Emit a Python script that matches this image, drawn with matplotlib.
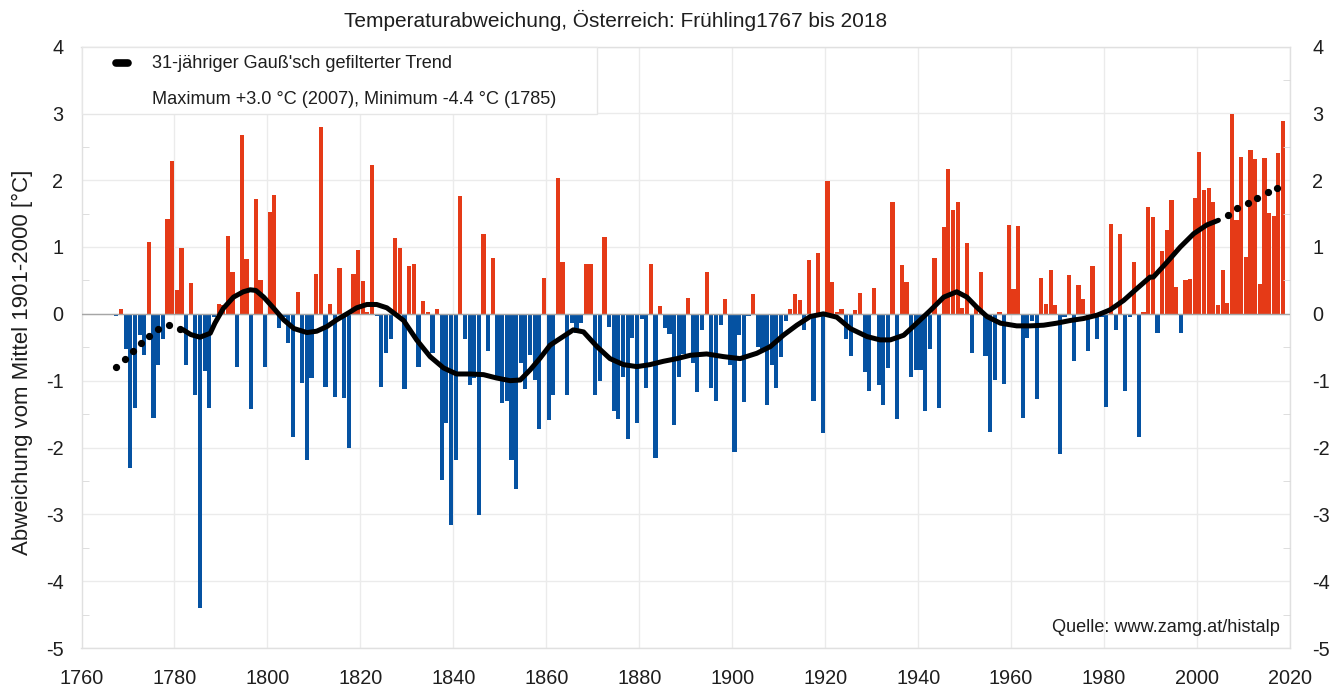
import matplotlib
matplotlib.use("Agg")
import matplotlib.pyplot as plt
import numpy as np
from matplotlib.lines import Line2D
from matplotlib.patches import Rectangle

plt.rcParams['font.family'] = ['Liberation Sans', 'DejaVu Sans']
plt.rcParams['axes.unicode_minus'] = False

# ---------------- data ----------------
years = list(range(1767, 2019))
anomaly = [
    # 1767-1776
    -0.03, 0.07, -0.52, -2.31, -1.41, -0.32, -0.62, 1.08, -1.56, -0.76,
    # 1777-1786
    -0.38, 1.42, 2.29, 0.35, 0.98, -0.77, 0.46, -1.21, -4.40, -0.85,
    # 1787-1796
    -1.41, -0.05, 0.15, 0.13, 1.16, 0.62, -0.80, 2.68, 0.82, -1.43,
    # 1797-1806
    1.72, 0.51, -0.80, 1.52, 1.78, -0.21, -0.05, -0.44, -1.85, 0.32,
    # 1807-1816
    -1.04, -2.18, -0.96, 0.59, 2.80, -1.10, 0.15, -1.24, 0.68, -1.26,
    # 1817-1826
    -2.00, 0.60, 0.95, 0.49, 0.03, 2.22, -0.03, -1.10, -0.58, -0.38,
    # 1827-1836
    1.13, 0.98, -1.13, 0.72, 0.75, -0.79, 0.19, 0.03, -0.59, 0.07,
    # 1837-1846
    -2.49, -1.63, -3.16, -2.19, 1.77, -0.37, -1.06, -0.96, -3.01, 1.19,
    # 1847-1856
    -0.55, 0.83, -0.99, -1.33, -1.31, -2.19, -2.62, -0.74, -1.13, -0.62,
    # 1857-1866
    -0.99, -1.72, 0.54, -1.59, -1.22, 2.03, 0.78, -1.22, -0.14, -0.29,
    # 1867-1876
    -0.13, 0.75, 0.74, -1.22, -1.01, 1.15, -0.20, -1.46, -1.57, -0.95,
    # 1877-1886
    -1.87, -0.36, -1.64, -0.08, -1.11, 0.74, -2.15, 0.11, -0.21, -0.30,
    # 1887-1896
    -1.66, -0.95, -0.60, 0.24, -0.74, -1.17, -0.24, 0.62, -1.11, -1.31,
    # 1897-1906
    -0.17, 0.22, -0.76, -2.06, -0.32, -1.32, -0.03, 0.30, -0.50, -0.52,
    # 1907-1916
    -1.36, -0.76, -1.11, -0.64, -0.10, 0.07, 0.29, 0.20, -0.24, 0.81,
    # 1917-1926
    -1.31, 0.91, -1.78, 1.99, 0.48, 0.02, 0.07, -0.37, -0.63, 0.06,
    # 1927-1936
    0.31, -0.87, -1.15, 0.39, -1.07, -1.37, -0.81, 1.67, -1.57, 0.73,
    # 1937-1946
    0.48, -0.94, -0.84, -0.84, -1.45, -0.52, 0.83, -1.41, 1.30, 2.16,
    # 1947-1956
    1.55, 1.67, 0.08, 1.06, -0.59, 0.11, 0.62, -0.63, -1.77, -0.99,
    # 1957-1966
    0.03, -1.05, 1.33, 0.37, 1.32, -1.56, -0.36, -0.10, -1.27, 0.53,
    # 1967-1976
    0.15, 0.66, 0.13, -2.09, -0.05, 0.58, -0.70, 0.43, 0.22, -0.56,
    # 1977-1986
    0.72, -0.38, -0.04, -1.39, 1.34, -0.24, 1.19, -1.15, -0.05, 0.78,
    # 1987-1996
    -1.85, 0.02, 1.60, 1.45, -0.28, 0.94, 1.25, 1.70, 0.40, -0.28,
    # 1997-2006
    0.50, 0.52, 1.73, 2.42, 1.85, 1.88, 1.67, 0.13, 0.66, 0.16,
    # 2007-2016
    2.99, 1.40, 2.35, 0.85, 2.45, 2.31, 0.45, 2.33, 1.51, 1.47,
    # 2017-2018
    2.40, 2.89,
]

# 31-year Gaussian filtered trend
trend_years = [1781.4, 1783, 1785, 1787.2, 1788.2, 1790, 1792.2, 1794.3, 1795.8, 1797,
               1798.7, 1800.9, 1803, 1805.2, 1808, 1810.1, 1812.3, 1814.4, 1816.6, 1818.7,
               1820.9, 1823, 1825.2, 1827.3, 1828.8, 1831.6, 1834.5, 1837.4, 1840.2, 1843.1,
               1846, 1848.8, 1851.7, 1853.9, 1856, 1858.2, 1860.3, 1861.8, 1865.3, 1867.5,
               1870.4, 1873.2, 1876.1, 1879, 1881.8, 1884.7, 1887.6, 1890.5, 1894, 1897.6,
               1901.2, 1904.8, 1907.7, 1910.5, 1913.4, 1916.3, 1919.1, 1922, 1924.9, 1928.5,
               1931.3, 1933.5, 1936.4, 1939.2, 1942.1, 1945, 1947.8, 1950, 1952.1, 1954.3,
               1957.2, 1960.7, 1963.6, 1966.5, 1969.3, 1972.2, 1975.1, 1978, 1980.8, 1983.7,
               1986.6, 1989.4, 1990.1, 1993, 1995.9, 1998.8, 2001.6, 2004.1]
trend_values = [-0.24, -0.31, -0.35, -0.29, -0.14, 0.08, 0.25, 0.33, 0.36, 0.35,
                0.25, 0.08, -0.09, -0.22, -0.28, -0.26, -0.19, -0.09, 0.0, 0.09,
                0.14, 0.14, 0.09, -0.02, -0.10, -0.39, -0.64, -0.81, -0.90, -0.90,
                -0.91, -0.96, -1.00, -0.99, -0.84, -0.66, -0.47, -0.40, -0.24, -0.27,
                -0.49, -0.67, -0.76, -0.79, -0.76, -0.71, -0.67, -0.62, -0.60, -0.64,
                -0.67, -0.59, -0.49, -0.32, -0.17, -0.04, 0.0, -0.05, -0.22, -0.34,
                -0.39, -0.39, -0.32, -0.14, 0.05, 0.25, 0.33, 0.25, 0.10, -0.04,
                -0.14, -0.18, -0.18, -0.17, -0.14, -0.10, -0.07, -0.02, 0.06, 0.20,
                0.38, 0.55, 0.55, 0.77, 1.00, 1.20, 1.33, 1.40]
# dotted (edge) parts of the trend
dots_start_years = [1766.9, 1768.9, 1770.5, 1772.3, 1774.1, 1776.0, 1778.4, 1780.6]
dots_start_values = [-0.79, -0.68, -0.56, -0.44, -0.33, -0.22, -0.17, -0.22]
dots_end_years = [2006.1, 2008.2, 2010.4, 2012.5, 2014.7, 2016.8]
dots_end_values = [1.48, 1.58, 1.66, 1.73, 1.82, 1.89]

yticks = [4, 3, 2, 1, 0, -1, -2, -3, -4, -5]
xticks = list(range(1760, 2021, 20))

RED = '#E53A17'
BLUE = '#0552A2'
TXT = '#1E1E1E'
CENTER = 0.5  # each year's bar is drawn in the middle of its year slot

# ---------------- figure ----------------
W, H = 1341, 686
fig = plt.figure(figsize=(W / 100, H / 100), dpi=100)
ax = fig.add_axes([81.5 / W, 1 - 648 / H, (1290 - 81.5) / W, (648 - 46.5) / H])

colors = [RED if v >= 0 else BLUE for v in anomaly]
ax.bar(np.array(years) + CENTER, anomaly, width=0.9, color=colors, linewidth=0, zorder=2)

ax.plot(np.array(trend_years) + CENTER, trend_values, color='black', lw=3.6,
        solid_capstyle='round', solid_joinstyle='round', zorder=4)
ax.plot(np.array(dots_start_years) + CENTER, dots_start_values, 'o', color='black',
        ms=4.2, zorder=4)
ax.plot(np.array(dots_end_years) + CENTER, dots_end_values, 'o', color='black',
        ms=4.2, zorder=4)

ax.axhline(0, color='#A6A6A6', lw=1.0, zorder=3)

ax.set_xlim(1760, 2020)
ax.set_ylim(-5, 4)
ax.set_xticks(xticks)
ax.set_yticks(yticks)
ax.set_yticklabels([str(t) for t in yticks])
ax.set_yticks(np.arange(-4.5, 4, 1.0), minor=True)
ax.grid(True, which='major', color='#EBEBEB', lw=1.0, zorder=0)
ax.set_axisbelow(True)
for s in ax.spines.values():
    s.set_color('#E0E0E0')
    s.set_linewidth(1.0)
ax.tick_params(axis='both', which='major', length=0, labelsize=14.3, colors=TXT)
ax.tick_params(axis='y', which='minor', length=5, direction='in', color='#D8D8D8')
ax.tick_params(axis='x', pad=15)
ax.tick_params(axis='y', pad=13)

ax2 = ax.twinx()
ax2.set_ylim(-5, 4)
ax2.set_yticks(yticks)
ax2.set_yticklabels([str(t) for t in yticks])
ax2.set_yticks(np.arange(-4.5, 4, 1.0), minor=True)
ax2.tick_params(axis='y', which='major', length=0, labelsize=14.3, colors=TXT, pad=16)
ax2.tick_params(axis='y', which='minor', length=5, direction='in', color='#D8D8D8')
for s in ax2.spines.values():
    s.set_visible(False)

fig.text(22 / W, 1 - 362 / H, 'Abweichung vom Mittel 1901-2000 [°C]', rotation=90,
         ha='center', va='center', fontsize=16, color=TXT)

fig.text(616 / W, 1 - 20 / H, 'Temperaturabweichung, Österreich: Frühling1767 bis 2018',
         ha='center', va='center', fontsize=15, color=TXT)

# legend box
box = Rectangle((82 / W, 1 - 114 / H), (597 - 82) / W, (114 - 47) / H,
                transform=fig.transFigure, facecolor='white', edgecolor='#E6E6E6',
                lw=1.0, zorder=5)
fig.patches.append(box)
fig.add_artist(Line2D([116 / W, 128 / W], [1 - 63 / H, 1 - 63 / H], color='black',
                      lw=5.5, solid_capstyle='round', transform=fig.transFigure, zorder=6))
fig.text(152 / W, 1 - 63 / H, "31-jähriger Gauß'sch gefilterter Trend", ha='left',
         va='center', fontsize=13.1, color=TXT, zorder=7)
fig.text(152 / W, 1 - 100 / H, 'Maximum +3.0 °C (2007), Minimum -4.4 °C (1785)', ha='left',
         va='center', fontsize=13.1, color=TXT, zorder=7)

fig.text(1280 / W, 1 - 627 / H, 'Quelle: www.zamg.at/histalp', ha='right', va='center',
         fontsize=13.1, color=TXT, zorder=7)

fig.savefig('out.png', dpi=100)
